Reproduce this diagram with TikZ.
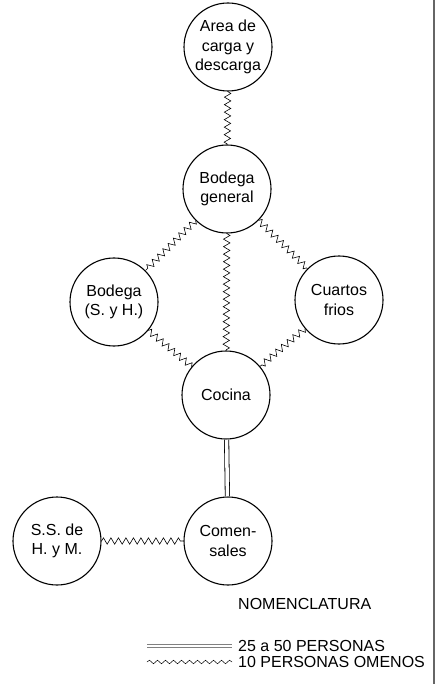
\documentclass[tikz,border=0pt]{standalone}
\usepackage{fontspec}
\setmainfont{Liberation Sans}
\usetikzlibrary{positioning, decorations.pathmorphing}
\tikzset{
	room/.style={circle, draw, line width=1.1pt, minimum size=88pt, inner sep=0pt,
		align=center, font=\fontsize{16}{19.5}\selectfont}
}
\tikzset{
	lowflow/.style={decorate, line width=0.6pt,
		decoration={zigzag, segment length=7.5pt, amplitude=3.2pt}},
	highflow/.style={double, line width=0.8pt, double distance=3.5pt}
}
\tikzset{
	legendtext/.style={anchor=west, inner sep=0pt, font=\fontsize{16}{19}\selectfont}
}

\begin{document}
\begin{tikzpicture}[x=1pt, y=-1pt]
      \useasboundingbox (0,0) rectangle (440,684);
      % rooms
      \node[room] (area) at (228,47) {Area de\\ carga y\\ descarga};
      \node[room] (general) at (227,189) {Bodega\\ general};
      \node[room] (bodsh) at (114,302) {Bodega\\ (S. y H.)};
      \node[room] (cuartos) at (339,300) {Cuartos\\ frios};
      \node[room] (cocina) at (226,395) {Cocina};
      \node[room] (comen) at (228,541) {Comen-\\ sales};
      \node[room] (ss) at (57,541) {S.S. de\\ H. y M.};
      % connections
      \draw[lowflow] (area) -- (general);
      \draw[lowflow] (general) -- (bodsh);
      \draw[lowflow] (general) -- (cuartos);
      \draw[lowflow] (general) -- (cocina);
      \draw[lowflow] (bodsh) -- (cocina);
      \draw[lowflow] (cuartos) -- (cocina);
      \draw[highflow] (cocina) -- (comen);
      \draw[lowflow] (ss) -- (comen);
      % legend
      \node[legendtext] (nomen) at (238,604) {NOMENCLATURA};
      \node[legendtext] (lgdouble) at (238,646) {25 a 50 PERSONAS};
      \node[legendtext] (lgzigzag) at (238,662) {10 PERSONAS OMENOS};
      \coordinate (dblend) at (147,646);
      \coordinate (zigend) at (147,662);
      \draw[double, draw=gray, line width=0.8pt, double distance=1.6pt] (dblend) -- ([xshift=-6pt]lgdouble.west);
      \draw[line width=0.5pt, decorate, decoration={snake, segment length=8pt, amplitude=1.8pt}]
        (zigend) -- ([xshift=-6pt]lgzigzag.west);
      % frame edge
      \draw[gray!80!black, line width=1.2pt] (434,0) -- (434,684);
    \end{tikzpicture}
\end{document}
